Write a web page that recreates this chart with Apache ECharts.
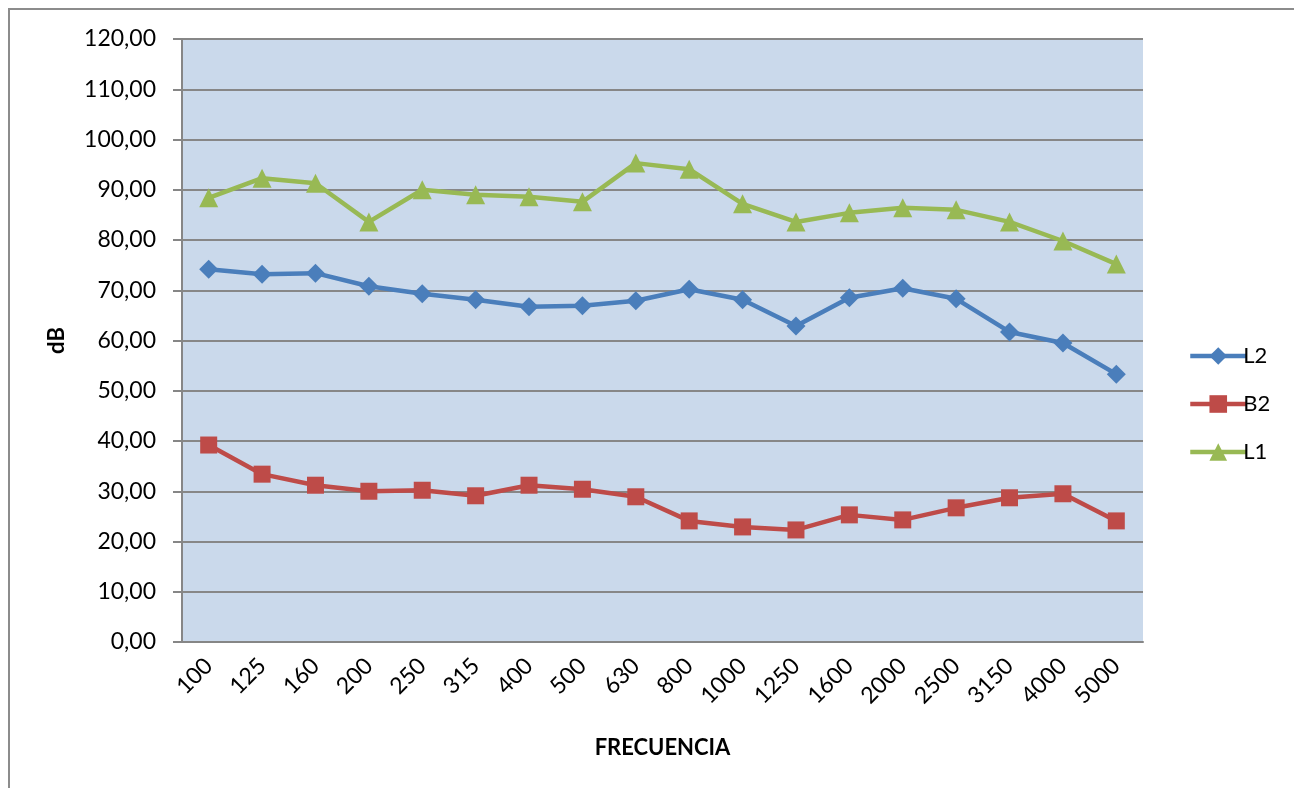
<!DOCTYPE html>
<html>
<head>
<meta charset="utf-8">
<script src="https://cdn.jsdelivr.net/npm/echarts@6/dist/echarts.min.js"></script>
<style>
html,body{margin:0;padding:0;background:#fff;}
#chart{width:1294px;height:788px;}
</style>
</head>
<body>
<div id="chart"></div>
<script>
const categories = ['100','125','160','200','250','315','400','500','630','800','1000','1250','1600','2000','2500','3150','4000','5000'];
const seriesL2 = [74.2,73.2,73.4,70.8,69.3,68.1,66.7,66.9,67.9,70.2,68.1,62.9,68.5,70.4,68.3,61.7,59.5,53.3];
const seriesB2 = [39.2,33.4,31.2,30.0,30.2,29.1,31.2,30.4,28.9,24.1,22.9,22.3,25.3,24.3,26.7,28.7,29.5,24.1];
const seriesL1 = [88.4,92.3,91.3,83.6,90.0,89.0,88.6,87.6,95.3,94.1,87.2,83.6,85.4,86.4,86.0,83.6,79.8,75.2];
const yTicks = {min:0, max:120, interval:10};

const FONT = 'Lato';
const chart = echarts.init(document.getElementById('chart'));
const mk = (name, data, color, symbol, size) => ({
  name, type:'line', data, symbol, symbolSize:size,
  lineStyle:{color, width:4.5}, itemStyle:{color},
  emphasis:{disabled:true}
});
chart.setOption({
  animation:false,
  textStyle:{fontFamily:FONT},
  graphic:[{type:'rect', shape:{x:9,y:9,width:1400,height:900}, style:{fill:null, stroke:'#8c8c8c', lineWidth:2}, silent:true, z:-10}],
  grid:{left:182, right:151, top:39, bottom:146, show:true, backgroundColor:'#cad9eb', borderWidth:0},
  legend:{
    orient:'vertical', left:1183, top:340, itemWidth:56, itemHeight:22, itemGap:26,
    lineStyle:{width:4.5},
    textStyle:{fontFamily:FONT, fontSize:22, color:'#000', padding:[0,0,0,-8]},
    data:['L2','B2','L1']
  },
  xAxis:{
    type:'category', data:categories, boundaryGap:true,
    name:'FRECUENCIA', nameLocation:'middle', nameGap:95,
    nameTextStyle:{fontFamily:FONT, fontSize:22, fontWeight:'bold', color:'#000'},
    axisLine:{lineStyle:{color:'#868686', width:2}},
    axisTick:{show:false},
    axisLabel:{rotate:45, margin:20, fontFamily:FONT, fontSize:23, color:'#000'}
  },
  yAxis:{
    type:'value', min:yTicks.min, max:yTicks.max, interval:yTicks.interval,
    name:'dB', nameLocation:'middle', nameGap:114, nameRotate:90,
    nameTextStyle:{fontFamily:FONT, fontSize:22, fontWeight:'bold', color:'#000'},
    axisLine:{show:true, lineStyle:{color:'#868686', width:2}},
    axisTick:{show:true, length:9, lineStyle:{color:'#868686', width:2}},
    splitLine:{lineStyle:{color:'#878787', width:2}},
    axisLabel:{margin:26, fontFamily:FONT, fontSize:23, color:'#000',
      formatter:v => v.toFixed(2).replace('.', ',')}
  },
  series:[
    mk('L2', seriesL2, '#4a7ebb', 'diamond', 19),
    mk('B2', seriesB2, '#be4b48', 'rect', 17),
    mk('L1', seriesL1, '#98b954', 'triangle', 19)
  ]
});
</script>
</body>
</html>
